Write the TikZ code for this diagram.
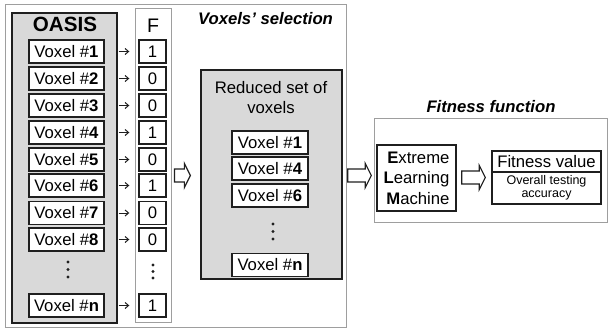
\documentclass[tikz,border=0pt]{standalone}
\usepackage{fontspec}
\setmainfont{Liberation Sans}
\usetikzlibrary{calc,arrows.meta}
\definecolor{framegray}{gray}{0.62}
\definecolor{fillgray}{gray}{0.85}
\definecolor{edgec}{gray}{0.12}
\newcommand\blockarr[3]{%
  \draw[line width=1.2pt, draw=edgec, fill=white] let \p1=#1, \p2=#2 in
   (\x1,\y1+6.5pt) -- (\x2-#3,\y1+6.5pt) -- (\x2-#3,\y1+12pt) -- (\x2,\y1)
   -- (\x2-#3,\y1-12pt) -- (\x2-#3,\y1-6.5pt) -- (\x1,\y1-6.5pt) -- cycle;}
\begin{document}
\begin{tikzpicture}[x=1pt,y=-1pt,
  txt/.style={font=\fontsize{16.7}{20.5}\selectfont},
  box/.style={draw=edgec, fill=white, line width=1.4pt, inner sep=0pt},
  vox/.style={box, minimum width=75pt, minimum height=23pt, txt},
  fbit/.style={box, minimum width=27pt, minimum height=23pt, txt},
  panel/.style={draw=framegray, line width=0.8pt, inner sep=0pt, fill=white},
  grpbox/.style={draw=edgec, fill=fillgray, line width=1.3pt, inner sep=0pt},
  smallarr/.style={-{Straight Barb[length=3.5pt,width=6pt]}, line width=1pt, draw=edgec},
  dotc/.style={circle, fill=edgec, inner sep=0pt, minimum size=3.2pt},
  title/.style={font=\fontsize{16.7}{20}\selectfont\bfseries\itshape, inner sep=0pt}
]
\fill[white] (0,0) rectangle (609,329);
\useasboundingbox (0,0) rectangle (609,329);

% panels
\node[panel, minimum width=341pt, minimum height=323pt] (outer) at (175.5,165.5) {};
\node[grpbox, minimum width=105pt, minimum height=310pt] (oasis) at (64.5,168) {};
\node[panel, minimum width=36pt, minimum height=314pt] (fcol) at (153,165) {};
\node[inner sep=0pt, font=\fontsize{20.6}{22}\selectfont\bfseries] (oasist) at (65,24.5) {OASIS};
\node[inner sep=0pt, font=\fontsize{19.6}{22}\selectfont] (ft) at (153,26) {F};
\node[title, anchor=base] (vst) at (265.5,24.3) {Voxels’ selection};

% voxel list and bits
\foreach \n/\y/\b in {1/51.5/1, 2/78.5/0, 3/105.5/0, 4/132.5/1, 5/159.5/0, 6/185.5/1, 7/213/0, 8/239.5/0, n/305.5/1}{
  \node[vox] (v\n) at (66.5,\y) {Voxel \#\textbf{\n}};
  \node[fbit] (f\n) at (152.5,\y) {\b};
  \draw[smallarr] ($(oasis.east |- v\n)+(1,0)$) -- ($(f\n.west)+(-9,0)$);
}
\foreach \y [count=\i] in {262,269.5,277}{ \node[dotc] (od\i) at (68,\y) {}; }
\foreach \y [count=\i] in {265,271.5,278}{ \node[dotc] (fd\i) at (153,\y) {}; }

% reduced set
\node[grpbox, minimum width=141pt, minimum height=209pt] (red) at (271.5,174.5) {};
\node[txt, inner sep=0pt, anchor=base] (rt1) at (271,93) {Reduced set of};
\node[txt, inner sep=0pt, anchor=base] (rt2) at (271,113) {voxels};
\foreach \n/\y in {1/142.5, 4/168.5, 6/195.5, n/265}{
  \node[vox, minimum width=76pt] (r\n) at (270,\y) {Voxel \#\textbf{\n}};
}
\foreach \y [count=\i] in {224,231.5,239}{ \node[dotc] (rd\i) at (273,\y) {}; }

% fitness function
\node[panel, minimum width=233pt, minimum height=104pt] (ffp) at (490.5,170) {};
\node[title, anchor=base] (fft) at (491,112) {Fitness function};
\node[box, txt, minimum width=79pt, minimum height=66pt, align=right] (elm) at (416.5,178)
  {\textbf{E}xtreme\\\textbf{L}earning\\\textbf{M}achine};
\node[box, txt, minimum width=109pt, minimum height=21pt] (fvt) at (546.5,161.5) {Fitness value};
\node[box, minimum width=109pt, minimum height=32pt, align=center,
  font=\fontsize{12.5}{13.5}\selectfont] (fvb) at (546.5,188) {Overall testing\\accuracy};

% block arrows
\coordinate (yA) at (0,175.5);
\coordinate (yB) at (0,177.5);
\blockarr{($(fcol.east |- yA)+(3,0)$)}{($(red.west |- yA)+(-10,0)$)}{6pt}
\blockarr{($(red.east |- yA)+(5,0)$)}{($(elm.west |- yA)+(-5,0)$)}{6pt}
\blockarr{($(elm.east |- yB)+(5,0)$)}{($(fvt.west |- yB)+(-6,0)$)}{6pt}
\end{tikzpicture}
\end{document}
